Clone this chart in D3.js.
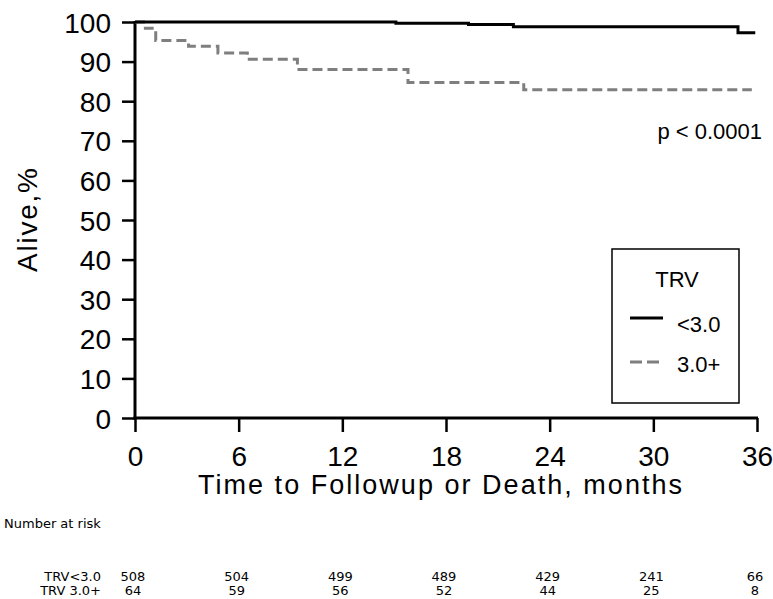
<!DOCTYPE html>
<meta charset="utf-8">
<script src="https://d3js.org/d3.v7.min.js"></script>
<style>
  body { margin: 0; background: #fff; }
  text { font-family: Arial, "Liberation Sans", sans-serif; fill: #000; }
  .risk { font-family: "DejaVu Sans", sans-serif; font-size: 13px; }
</style>
<div id="chart"></div>
<script>
// tick labels
var monthTicks = [0, 6, 12, 18, 24, 30, 36];
var aliveTicks = [0, 10, 20, 30, 40, 50, 60, 70, 80, 90, 100];

// Kaplan-Meier steps, TRV < 3.0
var lowTimes = [0, 15.1, 19.3, 21.9, 34.9, 35.9];
var lowSurv = [100, 99.7, 99.4, 98.8, 97.3, 97.3];

// Kaplan-Meier steps, TRV 3.0+
var highTimes = [0, 0.6, 1.2, 3.1, 4.8, 6.5, 9.4, 15.8, 22.5, 35.7];
var highSurv = [100, 98.4, 95.3, 93.9, 92.2, 90.6, 88.0, 84.7, 82.9, 82.9];

// number at risk
var riskGroups = ["TRV<3.0", "TRV 3.0+"];
var riskLow = [508, 504, 499, 489, 429, 241, 66];
var riskHigh = [64, 59, 56, 52, 44, 25, 8];

var W = 773, H = 599;
var svg = d3.select("#chart").append("svg")
  .attr("width", W).attr("height", H);

var x = d3.scaleLinear().domain([0, 36]).range([135, 757]);
var y = d3.scaleLinear().domain([0, 100]).range([418, 22]);

// x axis
var xAxis = svg.append("g")
  .attr("transform", "translate(0," + y(0) + ")")
  .call(d3.axisBottom(x).tickValues(monthTicks).tickSize(14).tickSizeOuter(0).tickPadding(12));
xAxis.select(".domain").attr("stroke-width", 3).attr("d", "M" + (x(0) - 1.5) + ",0H" + (x(36) + 1));
xAxis.selectAll(".tick line").attr("stroke-width", 2.5);
xAxis.selectAll(".tick text").style("font-size", "28px").attr("fill", "#000")
  .attr("dy", null).attr("y", 48);

// y axis
var yAxis = svg.append("g")
  .attr("transform", "translate(" + x(0) + ",0)")
  .call(d3.axisLeft(y).tickValues(aliveTicks).tickSize(13).tickSizeOuter(0).tickPadding(12));
yAxis.select(".domain").attr("stroke-width", 3).attr("d", "M0," + (y(100) - 1) + "V" + (y(0) + 1.5));
yAxis.selectAll(".tick line").attr("stroke-width", 2.5);
yAxis.selectAll(".tick text").style("font-size", "28px").attr("fill", "#000")
  .attr("dy", "0.36em").attr("x", -24);

// axis titles
svg.append("text")
  .attr("x", 440).attr("y", 494)
  .attr("text-anchor", "middle")
  .attr("textLength", 484).attr("lengthAdjust", "spacing")
  .style("font-size", "27px")
  .text("Time to Followup or Death, months");

svg.append("text")
  .attr("transform", "translate(37,220) rotate(-90)")
  .attr("text-anchor", "middle")
  .attr("textLength", 104).attr("lengthAdjust", "spacing")
  .style("font-size", "28px")
  .text("Alive,%");

// curves
var line = d3.line()
  .x(function (d) { return x(d[0]); })
  .y(function (d) { return y(d[1]); })
  .curve(d3.curveStepAfter);

svg.append("path")
  .datum(d3.zip(highTimes, highSurv))
  .attr("fill", "none")
  .attr("stroke", "#7f7f7f")
  .attr("stroke-width", 3)
  .attr("stroke-dasharray", "10,5")
  .attr("d", line);

svg.append("path")
  .datum(d3.zip(lowTimes, lowSurv))
  .attr("fill", "none")
  .attr("stroke", "#000")
  .attr("stroke-width", 3)
  .attr("d", line);

// p value
svg.append("text")
  .attr("x", 762).attr("y", 139)
  .attr("text-anchor", "end")
  .style("font-size", "22px")
  .text("p < 0.0001");

// legend
var leg = svg.append("g");
leg.append("rect")
  .attr("x", 612).attr("y", 249).attr("width", 127).attr("height", 154)
  .attr("fill", "#fff").attr("stroke", "#000").attr("stroke-width", 1.5);
leg.append("text")
  .attr("x", 677).attr("y", 287).attr("text-anchor", "middle")
  .style("font-size", "22px").text("TRV");
leg.append("line")
  .attr("x1", 630).attr("x2", 663).attr("y1", 318).attr("y2", 318)
  .attr("stroke", "#000").attr("stroke-width", 3);
leg.append("text")
  .attr("x", 677).attr("y", 332).style("font-size", "22px").text("<3.0");
leg.append("line")
  .attr("x1", 630).attr("x2", 664).attr("y1", 362).attr("y2", 362)
  .attr("stroke", "#7f7f7f").attr("stroke-width", 3).attr("stroke-dasharray", "12,5");
leg.append("text")
  .attr("x", 677).attr("y", 372).style("font-size", "22px").text("3.0+");

// number at risk table
svg.append("text").attr("class", "risk")
  .attr("x", 4).attr("y", 528).text("Number at risk");

var rows = [riskLow, riskHigh];
var rowY = [581, 595];
rows.forEach(function (vals, i) {
  svg.append("text").attr("class", "risk")
    .attr("x", 101).attr("y", rowY[i]).attr("text-anchor", "end")
    .text(riskGroups[i]);
  svg.append("g").selectAll("text")
    .data(vals)
    .join("text")
      .attr("class", "risk")
      .attr("x", function (d, j) { return x(monthTicks[j]) - 2; })
      .attr("y", rowY[i])
      .attr("text-anchor", "middle")
      .text(function (d) { return d; });
});
</script>
